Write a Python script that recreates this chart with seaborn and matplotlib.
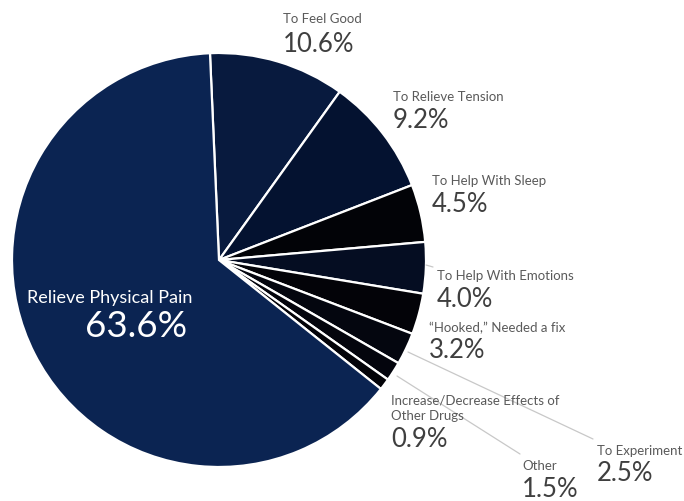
import matplotlib
matplotlib.use("Agg")
import matplotlib.pyplot as plt
import seaborn as sns

# Reasons for misusing prescription pain relievers (share of respondents, %)
reasons = [
    "To Feel Good",
    "To Relieve Tension",
    "To Help With Sleep",
    "To Help With Emotions",
    "\u201cHooked,\u201d Needed a fix",
    "To Experiment",
    "Other",
    "Increase/Decrease Effects of\nOther Drugs",
    "Relieve Physical Pain",
]
shares = [10.6, 9.2, 4.5, 4.0, 3.2, 2.5, 1.5, 0.9, 63.6]
slice_colors = [
    "#081a3e", "#041230", "#020307", "#050d22",
    "#030308", "#04060f", "#04050d", "#030308", "#0b2452",
]

sns.set_theme(style="white")
plt.rcParams["font.family"] = ["Lato", "DejaVu Sans"]

W, H = 684, 502
fig = plt.figure(figsize=(W / 100, H / 100), dpi=100)
ax = fig.add_axes([0, 0, 1, 1])

cx, cy, r = 219, H - 261, 207
ax.pie(
    shares,
    colors=slice_colors,
    startangle=92.5,
    counterclock=False,
    center=(cx, cy),
    radius=r,
    wedgeprops=dict(edgecolor="white", linewidth=1.6),
    frame=True,
)
ax.set_xlim(0, W)
ax.set_ylim(0, H)
ax.set_aspect("equal")
ax.axis("off")

label_grey = "#5a5a5a"
value_grey = "#3f3f3f"
# (label x, label baseline, value baseline) in pixel rows from the top
placements = {
    "To Feel Good": (283, 23, 52),
    "To Relieve Tension": (393, 101, 128),
    "To Help With Sleep": (432, 185, 212),
    "To Help With Emotions": (437, 280, 307),
    "\u201cHooked,\u201d Needed a fix": (429, 332, 358),
    "To Experiment": (597, 455, 481),
    "Other": (522, 470, 497),
    "Increase/Decrease Effects of\nOther Drugs": (391, 405, 447),
}

for name, value in zip(reasons, shares):
    if name in placements:
        x, lb, vb = placements[name]
        lines = name.split("\n")
        for i, line in enumerate(lines):
            ax.text(x, H - lb - 15 * i, line, fontsize=9.5, color=label_grey,
                    ha="left", va="baseline")
        ax.text(x, H - vb, f"{value:.1f}%", fontsize=18.5, color=value_grey,
                ha="left", va="baseline")
    else:
        ax.text(27, H - 303, name, fontsize=13, color="white",
                ha="left", va="baseline")
        ax.text(85, H - 337, f"{value:.1f}%", fontsize=26.5, color="white",
                ha="left", va="baseline")

# leader lines for the thin slices near the bottom right
leader = dict(color="#c8c8c8", linewidth=0.9)
ax.plot([408, 593], [H - 353, H - 440], **leader)
ax.plot([397, 520], [H - 377, H - 455], **leader)
ax.plot([426, 433], [H - 266, H - 268], **leader)

fig.savefig("out.png", dpi=100, facecolor="white")
